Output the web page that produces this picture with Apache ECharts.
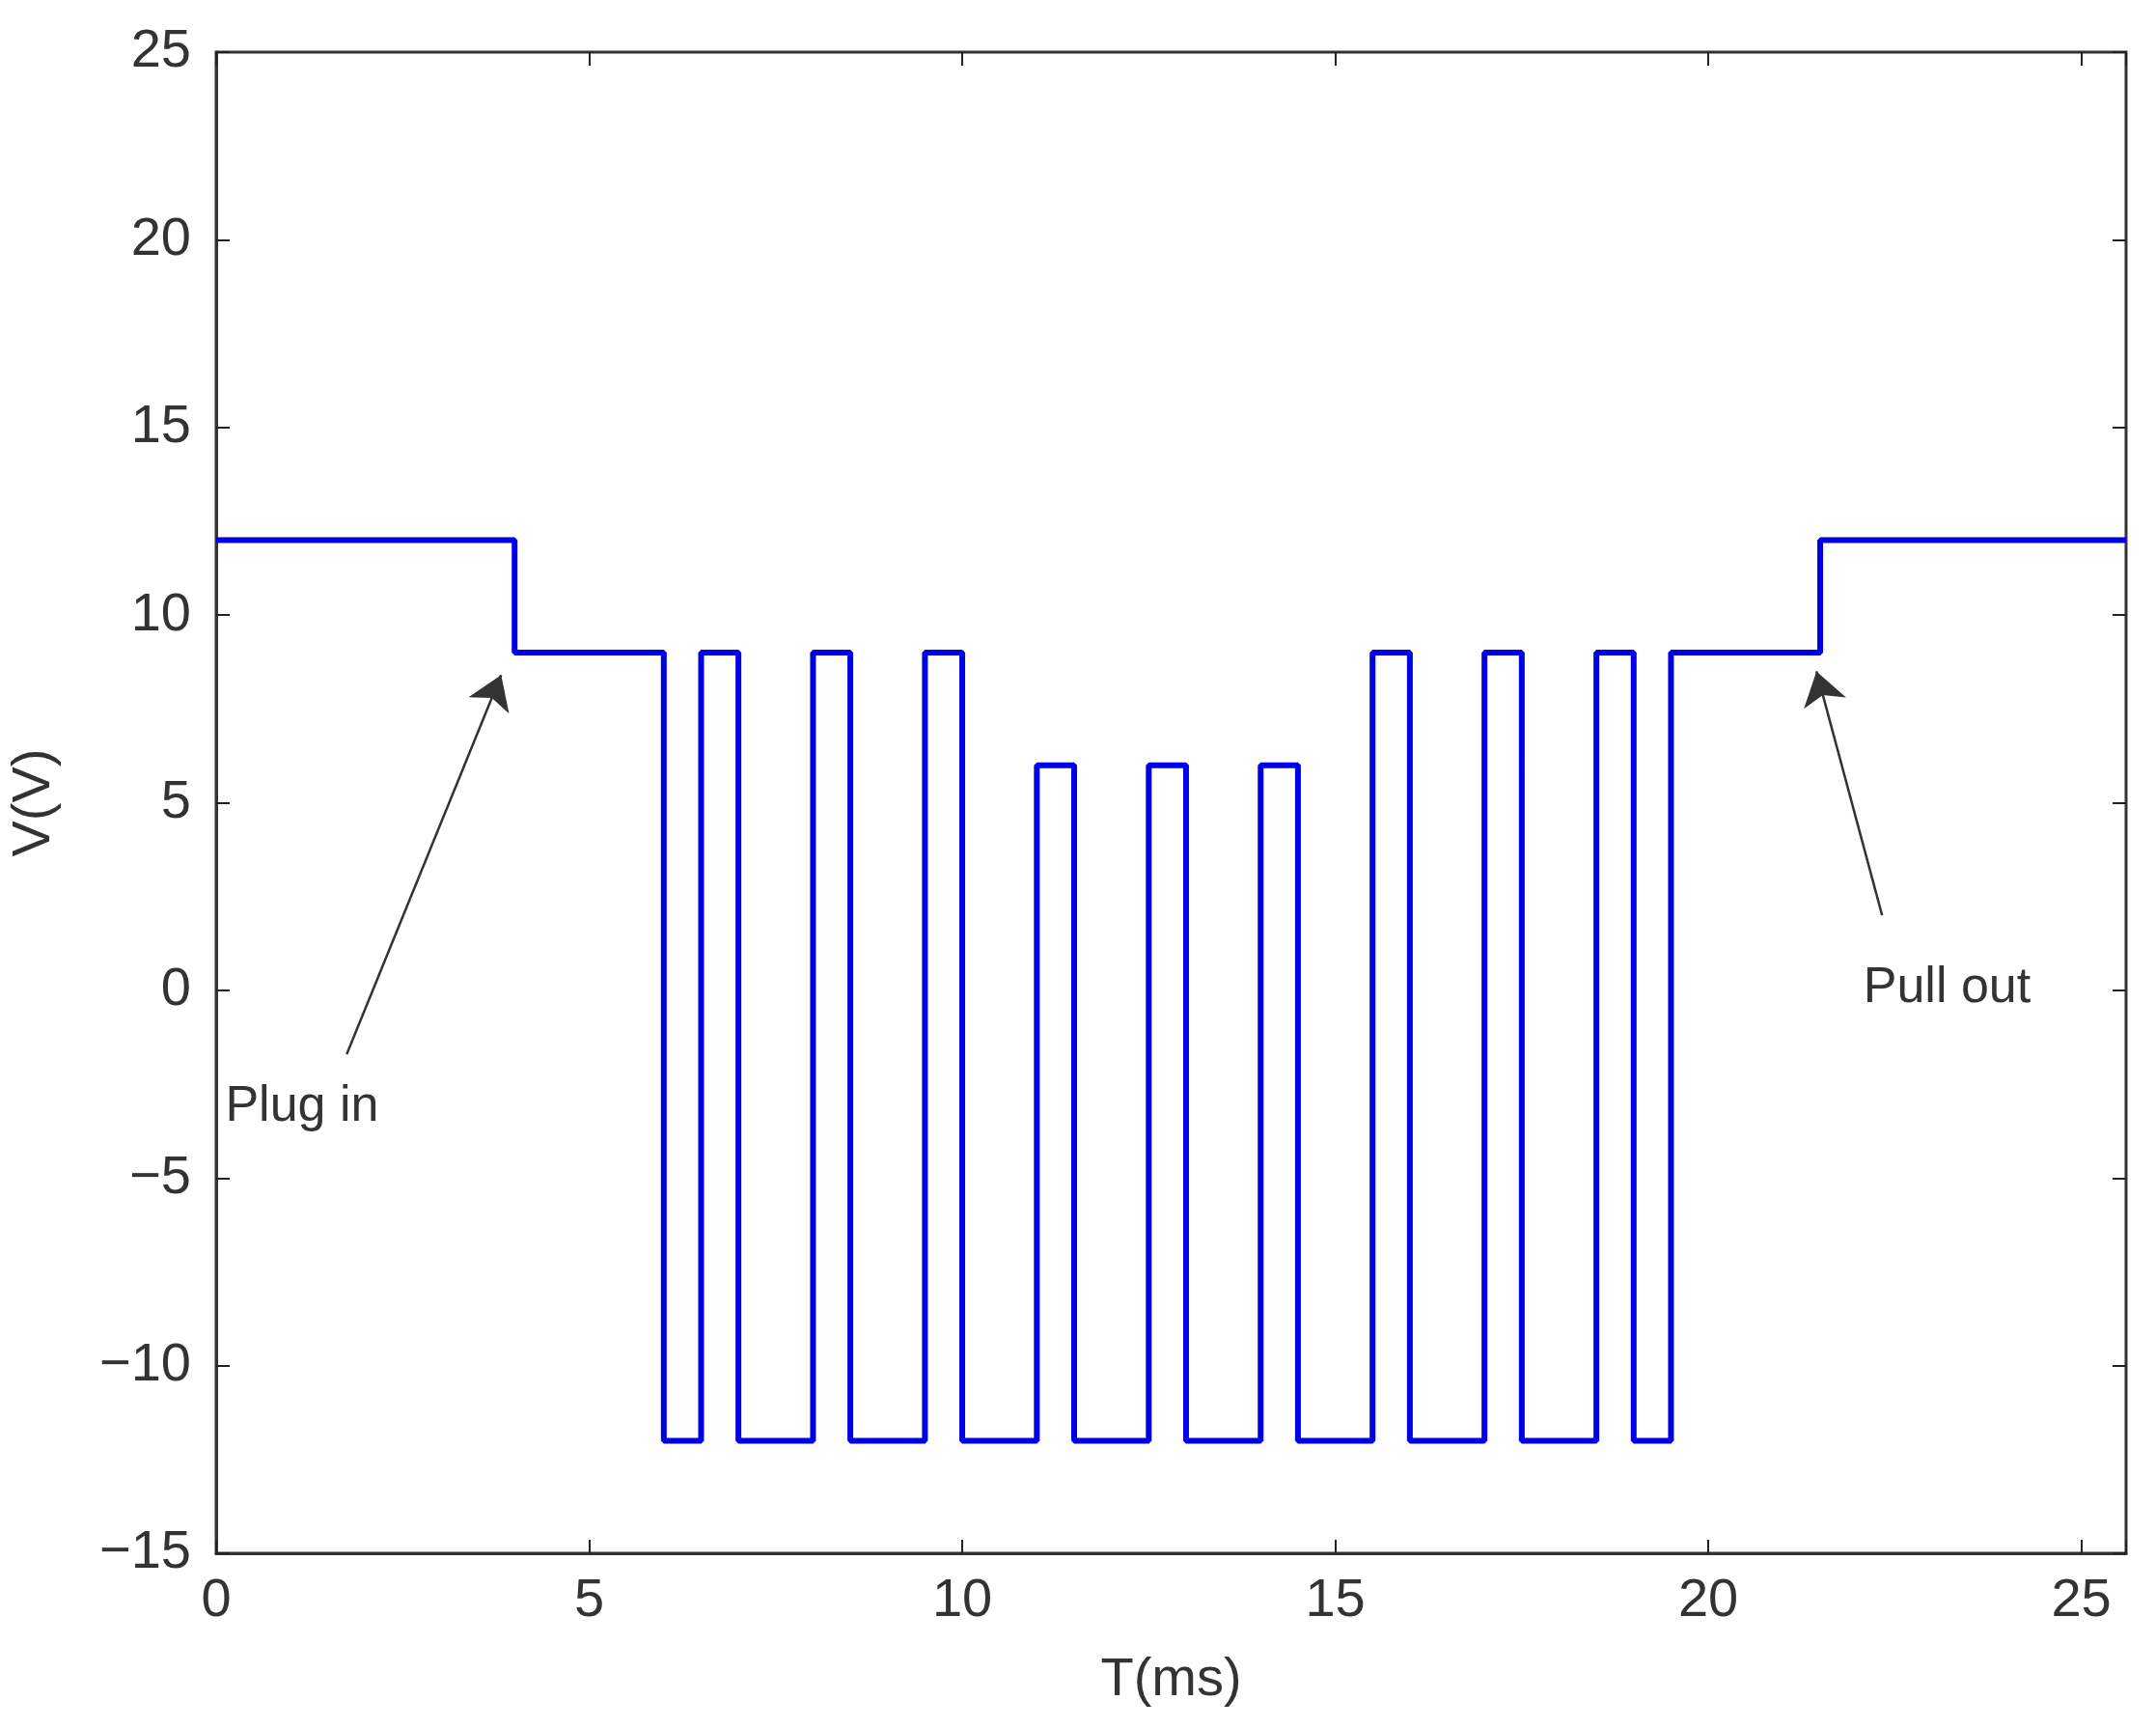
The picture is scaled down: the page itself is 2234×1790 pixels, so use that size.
<!DOCTYPE html>
<html>
<head>
<meta charset="utf-8">
<script src="https://cdn.jsdelivr.net/npm/echarts@6/dist/echarts.min.js"></script>
<style>html,body{margin:0;background:#fff}#container{width:2234px;height:1790px}</style>
</head>
<body>
<div id="container"></div>
<script>
// step points: [time ms, voltage V]
let times = [0, 4, 4, 6, 6, 6.5, 6.5, 7, 7, 8, 8, 8.5, 8.5, 9.5, 9.5, 10, 10, 11, 11, 11.5, 11.5, 12.5, 12.5, 13, 13, 14, 14, 14.5, 14.5, 15.5, 15.5, 16, 16, 17, 17, 17.5, 17.5, 18.5, 18.5, 19, 19, 19.5, 19.5, 21.5, 21.5, 25.6];
let volts = [12, 12, 9, 9, -12, -12, 9, 9, -12, -12, 9, 9, -12, -12, 9, 9, -12, -12, 6, 6, -12, -12, 6, 6, -12, -12, 6, 6, -12, -12, 9, 9, -12, -12, 9, 9, -12, -12, 9, 9, -12, -12, 9, 9, 12, 12];
let xTicks = [0, 5, 10, 15, 20, 25];
let notes = [
  { text: 'Plug in', from: [1.75, -1.7], to: [3.82, 8.4], at: [1.15, -3.1] },
  { text: 'Pull out', from: [22.33, 2.0], to: [21.45, 8.5], at: [23.2, 0.05] },
];

let font = 'Liberation Sans';
let tick = () => ({ show: true, inside: true, length: 14, lineStyle: { color: '#222', width: 2 } });

var myChart = echarts.init(document.getElementById('container'));

let option = {
  backgroundColor: '#fff',
  animation: false,
  grid: { left: 221, right: 31, top: 54, bottom: 181, show: true, borderColor: '#333', borderWidth: 3 },
  xAxis: [
    {
      type: 'value', min: 0, max: 25.6, interval: 5,
      name: 'T(ms)', nameLocation: 'middle', nameGap: 104,
      nameTextStyle: { fontFamily: font, fontSize: 56, color: '#333' },
      axisLine: { onZero: false, lineStyle: { color: '#333', width: 3 } },
      axisTick: tick(), splitLine: { show: false },
      axisLabel: { fontFamily: font, fontSize: 56, color: '#333', margin: 22,
        formatter: (v) => (xTicks.includes(v) ? String(v) : '') },
    },
    {
      type: 'value', min: 0, max: 25.6, interval: 5, position: 'top',
      axisLine: { show: false, onZero: false }, axisTick: tick(), axisLabel: { show: false }, splitLine: { show: false },
    },
  ],
  yAxis: [
    {
      type: 'value', min: -15, max: 25, interval: 5,
      name: 'V(V)', nameLocation: 'middle', nameGap: 160,
      nameTextStyle: { fontFamily: font, fontSize: 56, color: '#333' },
      axisLine: { show: true, onZero: false, lineStyle: { color: '#333', width: 3 } },
      axisTick: tick(), splitLine: { show: false },
      axisLabel: { fontFamily: font, fontSize: 56, color: '#333', margin: 26,
        formatter: (v) => (v < 0 ? '\u2212' + Math.abs(v) : String(v)) },
    },
    {
      type: 'value', min: -15, max: 25, interval: 5, position: 'right',
      axisLine: { show: false, onZero: false }, axisTick: tick(), axisLabel: { show: false }, splitLine: { show: false },
    },
  ],
  series: [
    {
      type: 'line',
      data: times.map((t, i) => [t, volts[i]]),
      showSymbol: false,
      lineStyle: { color: '#0000e6', width: 6 },
      markLine: {
        silent: true,
        symbol: ['none', 'arrow'],
        symbolSize: 34,
        lineStyle: { color: '#333', width: 2.5, type: 'solid' },
        label: { show: false },
        data: notes.map((n) => [{ coord: n.from }, { coord: n.to }]),
      },
      markPoint: {
        silent: true,
        symbol: 'circle', symbolSize: 0,
        label: { show: true, position: 'inside', fontFamily: font, fontSize: 52, color: '#333',
          formatter: (p) => p.name },
        data: notes.map((n) => ({ name: n.text, coord: n.at })),
      },
    },
  ],
};

myChart.setOption(option);
</script>
</body>
</html>
